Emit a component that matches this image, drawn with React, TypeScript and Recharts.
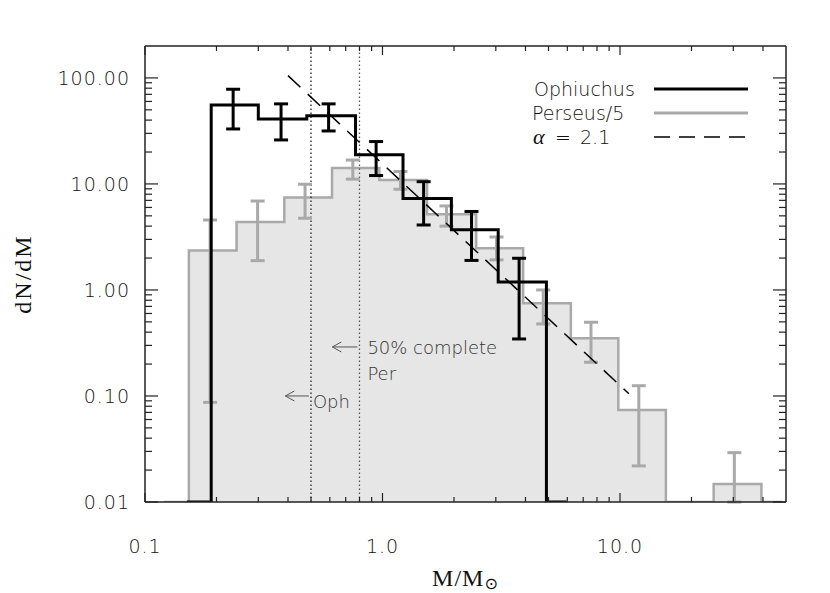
import React from 'react';
import {
  ComposedChart,
  Line,
  Area,
  Scatter,
  ErrorBar,
  XAxis,
  YAxis,
  ReferenceLine,
} from 'recharts';

// ---------- axis ticks ----------
const xMajorTicks = [0.1, 1, 10];
const xMajorLabels = ['0.1', '1.0', '10.0'];
const xMinorTicks = [0.2, 0.3, 0.4, 0.5, 0.6, 0.7, 0.8, 0.9, 2, 3, 4, 5, 6, 7, 8, 9, 20, 30, 40];
const yMajorTicks = [0.01, 0.1, 1, 10, 100];
const yMajorLabels = ['0.01', '0.10', '1.00', '10.00', '100.00'];
const yMinorTicks = [
  0.02, 0.03, 0.04, 0.05, 0.06, 0.07, 0.08, 0.09,
  0.2, 0.3, 0.4, 0.5, 0.6, 0.7, 0.8, 0.9,
  2, 3, 4, 5, 6, 7, 8, 9,
  20, 30, 40, 50, 60, 70, 80, 90,
];
const xDomain = [0.1, 50];
const yDomain = [0.01, 200];

// ---------- Ophiuchus histogram (bin edges / values; 0.01 = empty bin on the axis) ----------
const ophEdges = [0.15, 0.19, 0.30, 0.48, 0.77, 1.22, 1.95, 3.07, 4.9, 5.95];
const ophValues = [0.01, 55.6, 41, 44, 18.8, 7.3, 3.7, 1.19, 0.01, 0.01];
const ophErrX = [0.235, 0.374, 0.593, 0.94, 1.49, 2.37, 3.76];
const ophErrLow = [33.0, 26.0, 31.6, 12.0, 4.1, 1.9, 0.345];
const ophErrHigh = [78.2, 56.9, 56.9, 25.1, 10.5, 5.5, 1.99];

// ---------- Perseus/5 histogram ----------
const perEdges = [0.12, 0.153, 0.243, 0.386, 0.613, 0.97, 1.54, 2.48, 3.91, 6.21, 9.84, 15.6, 24.8, 39.4, 48.3];
const perValues = [0.01, 2.35, 4.38, 7.43, 14.1, 10.9, 5.18, 2.47, 0.75, 0.35, 0.0738, 0.01, 0.0148, 0.01, 0.01];
const perErrX = [0.188, 0.298, 0.472, 0.75, 1.19, 1.86, 3.02, 4.75, 7.55, 12.0, 30.3];
const perErrLow = [0.087, 1.89, 4.75, 11.1, 8.91, 4.0, 1.92, 0.478, 0.208, 0.0219, 0.01];
const perErrHigh = [4.57, 6.9, 9.94, 16.8, 13.1, 6.2, 3.16, 1.0, 0.496, 0.125, 0.0292];

// ---------- power law alpha = 2.1 ----------
const slopeX = [0.4, 10.9];
const slopeY = [105, 0.105];

// ---------- completeness limits ----------
const ophLimit = 0.5;
const perLimit = 0.8;

const legendLabels = ['Ophiuchus', 'Perseus/5', '2.1'];

const ophData = ophEdges.map((x, i) => ({ x, y: ophValues[i] }));
const perData = perEdges.map((x, i) => ({ x, y: perValues[i] }));
const ophErrData = ophErrX.map((x, i) => ({ x, y: ophErrLow[i], err: [0, ophErrHigh[i] - ophErrLow[i]] }));
const perErrData = perErrX.map((x, i) => ({ x, y: perErrLow[i], err: [0, perErrHigh[i] - perErrLow[i]] }));
const slopeData = slopeX.map((x, i) => ({ x, y: slopeY[i] }));

const xAllTicks = [...xMajorTicks, ...xMinorTicks];
const yAllTicks = [...yMajorTicks, ...yMinorTicks];

const FONT = '"DejaVu Sans", sans-serif';
const SERIF = '"Liberation Serif", "DejaVu Serif", serif';
const AXIS = '#222';
const GRAY = '#a9a9a9';
const FILL = '#e6e6e6';
const TXT = '#111';

const W = 814;
const H = 585;

const XTickBottom = (props: any) => {
  const { x, y, payload } = props;
  const idx = xMajorTicks.indexOf(payload.value);
  const major = idx >= 0;
  return (
    <g>
      <line x1={x} x2={x} y1={y} y2={y - (major ? 9 : 5)} stroke={AXIS} strokeWidth={1.2} />
      {major && (
        <text x={x} y={y + 44} textAnchor="middle" dominantBaseline="central" fontFamily={FONT}
          fontSize={19} fontWeight={200} fill={TXT} letterSpacing={1}>
          {xMajorLabels[idx]}
        </text>
      )}
    </g>
  );
};

const XTickTop = (props: any) => {
  const { x, y, payload } = props;
  const major = xMajorTicks.indexOf(payload.value) >= 0;
  return <line x1={x} x2={x} y1={y} y2={y + (major ? 9 : 5)} stroke={AXIS} strokeWidth={1.2} />;
};

const YTickLeft = (props: any) => {
  const { x, y, payload } = props;
  const idx = yMajorTicks.indexOf(payload.value);
  const major = idx >= 0;
  return (
    <g>
      <line x1={x} x2={x + (major ? 13 : 7)} y1={y} y2={y} stroke={AXIS} strokeWidth={1.2} />
      {major && (
        <text x={x - 15} y={y} textAnchor="end" dominantBaseline="central" fontFamily={FONT}
          fontSize={19} fontWeight={200} fill={TXT} letterSpacing={1}>
          {yMajorLabels[idx]}
        </text>
      )}
    </g>
  );
};

const YTickRight = (props: any) => {
  const { x, y, payload } = props;
  const major = yMajorTicks.indexOf(payload.value) >= 0;
  return <line x1={x} x2={x - (major ? 13 : 7)} y1={y} y2={y} stroke={AXIS} strokeWidth={1.2} />;
};

const Arrow = ({ left, right, y }: any) => (
  <g>
    <line x1={left} x2={right} y1={y} y2={y} stroke="#555" strokeWidth={1} />
    <polyline points={`${left + 9},${y - 5} ${left},${y} ${left + 9},${y + 5}`} fill="none" stroke="#555" strokeWidth={1} />
  </g>
);

const OphLabelShape = (props: any) => {
  const { x1, y1, x2 } = props;
  const left = Math.min(x1, x2);
  const right = Math.max(x1, x2);
  return (
    <g>
      <Arrow left={left} right={right} y={y1} />
      <text x={right + 4} y={y1 + 12} fontFamily={FONT} fontSize={18} fontWeight={200} fill="#333">Oph</text>
    </g>
  );
};

const PerLabelShape = (props: any) => {
  const { x1, y1, x2 } = props;
  const left = Math.min(x1, x2);
  const right = Math.max(x1, x2);
  return (
    <g>
      <Arrow left={left} right={right} y={y1} />
      <text x={right + 10} y={y1 + 7} fontFamily={FONT} fontSize={18} fontWeight={200} fill="#333">50% complete</text>
      <text x={right + 10} y={y1 + 33} fontFamily={FONT} fontSize={18} fontWeight={200} fill="#333">Per</text>
    </g>
  );
};

const LegendBox = () => (
  <svg width={240} height={80} style={{ position: 'absolute', left: 515, top: 67, display: 'block' }}>
    <text x={11} y={14} dominantBaseline="central" fontFamily={FONT} fontSize={19} fontWeight={200} fill={TXT}>{legendLabels[0]}</text>
    <line x1={131} x2={225} y1={14} y2={14} stroke="#000" strokeWidth={3} />
    <text x={9} y={38} dominantBaseline="central" fontFamily={FONT} fontSize={19} fontWeight={200} fill={TXT}>{legendLabels[1]}</text>
    <line x1={131} x2={225} y1={38} y2={38} stroke={GRAY} strokeWidth={3} />
    <text x={10} y={61} dominantBaseline="central" fontFamily={SERIF} fontStyle="italic" fontSize={22} fill={TXT}>α</text>
    <text x={32} y={62} dominantBaseline="central" fontFamily={FONT} fontSize={19} fontWeight={200} fill={TXT}>=</text>
    <text x={57} y={62} dominantBaseline="central" fontFamily={FONT} fontSize={19} fontWeight={200} fill={TXT}>{legendLabels[2]}</text>
    <line x1={131} x2={225} y1={62} y2={62} stroke="#000" strokeWidth={1.5} strokeDasharray="16 9" />
  </svg>
);

const XTitle = (props: any) => {
  const { viewBox } = props;
  const cx = viewBox.x + viewBox.width / 2;
  return (
    <text x={cx} y={viewBox.y + 84} textAnchor="middle" fontFamily={SERIF} fontSize={24} fill="#111" letterSpacing={1}>
      M/M<tspan fontSize={16} fontFamily={FONT} dy={3}>⊙</tspan>
    </text>
  );
};

const YTitle = (props: any) => {
  const { viewBox } = props;
  const cy = viewBox.y + viewBox.height / 2;
  const x = 15;
  return (
    <text x={x} y={cy} transform={`rotate(-90 ${x} ${cy})`} textAnchor="middle" dominantBaseline="central"
      fontFamily={SERIF} fontSize={24} fill="#111" letterSpacing={2}>
      dN/dM
    </text>
  );
};

export default function App() {
  return (
    <div style={{ position: 'relative', width: W, height: H }}>
      <ComposedChart
        width={W}
        height={H}
        margin={{ top: 28, right: 26, left: 77, bottom: 61 }}
        style={{ background: '#fff' }}
      >
        <XAxis
          xAxisId="b"
          dataKey="x"
          type="number"
          scale="log"
          domain={xDomain}
          allowDataOverflow
          ticks={xAllTicks}
          interval={0}
          tick={XTickBottom}
          tickLine={false}
          tickSize={0}
          tickMargin={0}
          height={30}
          axisLine={{ stroke: AXIS, strokeWidth: 1.5 }}
          label={<XTitle />}
        />
        <XAxis
          xAxisId="t"
          orientation="top"
          dataKey="x"
          type="number"
          scale="log"
          domain={xDomain}
          allowDataOverflow
          ticks={xAllTicks}
          interval={0}
          tick={XTickTop}
          tickLine={false}
          tickSize={0}
          tickMargin={0}
          height={10}
          axisLine={{ stroke: AXIS, strokeWidth: 1.5 }}
        />
        <YAxis
          yAxisId="l"
          type="number"
          scale="log"
          domain={yDomain}
          allowDataOverflow
          ticks={yAllTicks}
          interval={0}
          tick={YTickLeft}
          tickLine={false}
          tickSize={0}
          tickMargin={0}
          width={60}
          axisLine={{ stroke: AXIS, strokeWidth: 1.5 }}
          label={<YTitle />}
        />
        <YAxis
          yAxisId="r"
          orientation="right"
          type="number"
          scale="log"
          domain={yDomain}
          allowDataOverflow
          ticks={yAllTicks}
          interval={0}
          tick={YTickRight}
          tickLine={false}
          tickSize={0}
          tickMargin={0}
          width={10}
          axisLine={{ stroke: AXIS, strokeWidth: 1.5 }}
        />

        <Area
          xAxisId="b"
          yAxisId="l"
          data={perData}
          dataKey="y"
          type="stepAfter"
          baseValue={0.01}
          stroke={GRAY}
          strokeWidth={2.5}
          fill={FILL}
          fillOpacity={1}
          isAnimationActive={false}
          dot={false}
          activeDot={false}
        />

        <ReferenceLine xAxisId="b" yAxisId="l" x={ophLimit} stroke="#222" strokeWidth={1.3} strokeDasharray="1.5 2.5" />
        <ReferenceLine xAxisId="b" yAxisId="l" x={perLimit} stroke="#555" strokeWidth={1.3} strokeDasharray="1.5 2.5" />

        <ReferenceLine
          xAxisId="b"
          yAxisId="l"
          segment={[{ x: 0.39, y: 0.1 }, { x: 0.49, y: 0.1 }]}
          shape={OphLabelShape}
        />
        <ReferenceLine
          xAxisId="b"
          yAxisId="l"
          segment={[{ x: 0.615, y: 0.29 }, { x: 0.784, y: 0.29 }]}
          shape={PerLabelShape}
        />

        <Scatter
          xAxisId="b"
          yAxisId="l"
          data={perErrData}
          dataKey="y"
          shape={() => <g />}
          isAnimationActive={false}
        >
          <ErrorBar dataKey="err" direction="y" width={7} stroke={GRAY} strokeWidth={3} />
        </Scatter>

        <Line
          xAxisId="b"
          yAxisId="l"
          data={ophData}
          dataKey="y"
          type="stepAfter"
          stroke="#000"
          strokeWidth={3}
          dot={false}
          activeDot={false}
          isAnimationActive={false}
        />

        <Scatter
          xAxisId="b"
          yAxisId="l"
          data={ophErrData}
          dataKey="y"
          shape={() => <g />}
          isAnimationActive={false}
        >
          <ErrorBar dataKey="err" direction="y" width={7} stroke="#000" strokeWidth={3} />
        </Scatter>

        <Line
          xAxisId="b"
          yAxisId="l"
          data={slopeData}
          dataKey="y"
          type="linear"
          stroke="#000"
          strokeWidth={1.5}
          strokeDasharray="17 10"
          dot={false}
          activeDot={false}
          isAnimationActive={false}
        />
      </ComposedChart>
      <LegendBox />
    </div>
  );
}
